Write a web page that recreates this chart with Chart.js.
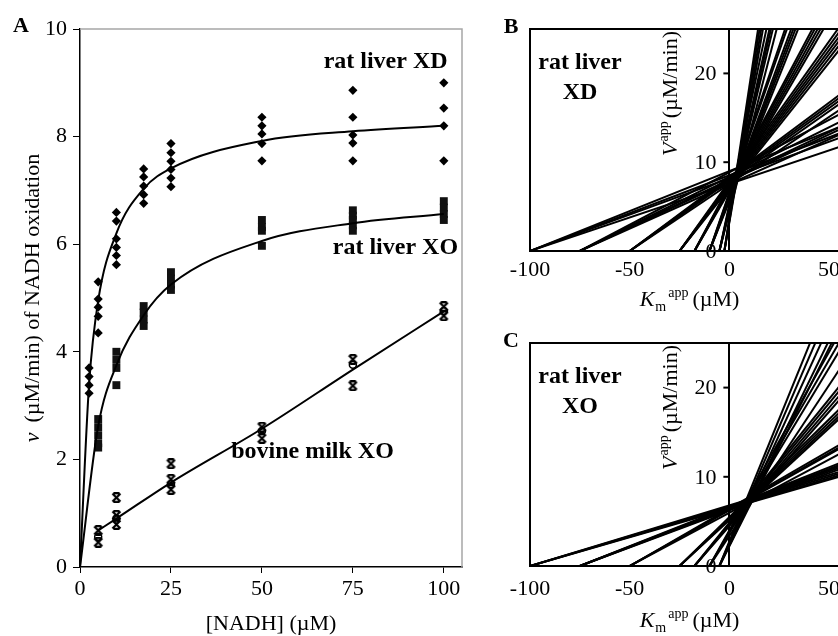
<!DOCTYPE html>
<html>
<head>
<meta charset="utf-8">
<script src="https://cdn.jsdelivr.net/npm/chart.js@4"></script>
<style>
  html, body { margin: 0; padding: 0; overflow: hidden; background: #fff; }
  body { width: 838px; height: 636px; position: relative; }
  canvas { position: absolute; }
  #chartA { left: 0; top: 0; }
  #chartB { left: 480px; top: 0; }
  #chartC { left: 480px; top: 318px; }
</style>
</head>
<body>
<canvas id="chartA" width="470" height="636"></canvas>
<canvas id="chartB" width="400" height="318"></canvas>
<canvas id="chartC" width="400" height="318"></canvas>
<script>
// Panel A data (rates in uM/min, grouped by [NADH] in uM)
const xdConc = [2.5, 5, 10, 17.5, 25, 50, 75, 100];
const xdRates = [
  [3.70, 3.54, 3.38, 3.23],
  [5.30, 4.98, 4.83, 4.66, 4.35],
  [6.59, 6.43, 6.10, 5.94, 5.79, 5.62],
  [7.40, 7.25, 7.08, 6.92, 6.76],
  [7.87, 7.70, 7.54, 7.39, 7.23, 7.07],
  [8.36, 8.20, 8.05, 7.87, 7.55],
  [8.86, 8.36, 8.03, 7.88, 7.55],
  [9.00, 8.53, 8.20, 7.55]
];
const xoConc = [5, 10, 17.5, 25, 50, 75, 100];
const xoRates = [
  [2.75, 2.60, 2.45, 2.30, 2.22],
  [4.00, 3.85, 3.70, 3.38],
  [4.85, 4.73, 4.60, 4.48],
  [5.48, 5.36, 5.25, 5.15],
  [6.45, 6.32, 6.25, 5.97],
  [6.63, 6.53, 6.45, 6.35, 6.25],
  [6.80, 6.68, 6.56, 6.45]
];
const milkConc = [5, 10, 25, 50, 75, 100];
const milkStars = [
  [0.68, 0.46],
  [1.29, 0.96, 0.79],
  [1.92, 1.63, 1.44],
  [2.60, 2.39],
  [3.86, 3.37],
  [4.84, 4.67]
];
const milkCircles = [0.56, 0.90, 1.54, 2.53, 3.76, 4.76];

// fitted curves as drawn in the figure
const xdFitX = [0, 2.5, 5, 10, 17.5, 25, 50, 75, 100];
const xdFitY = [0, 3.40, 4.95, 6.20, 7.03, 7.41, 7.92, 8.10, 8.20];
const xoFitX = [0, 5, 10, 17.5, 25, 50, 75, 100];
const xoFitY = [0, 2.62, 3.75, 4.68, 5.25, 6.06, 6.39, 6.56];
const milkFitX = [5, 10, 25, 50, 75, 100];
const milkFitY = [0.68, 0.90, 1.57, 2.57, 3.67, 4.75];

// tick labels
const nadhTicks = [0, 25, 50, 75, 100];
const rateTicks = [0, 2, 4, 6, 8, 10];
const kmTicks = [-100, -50, 0, 50];
const vTicks = [0, 10, 20];

const serif = '"Liberation Serif", "Times New Roman", serif';
Chart.defaults.font.family = serif;
Chart.defaults.color = '#000';

function toPoints(conc, groups) {
  const pts = [];
  conc.forEach((c, i) => groups[i].forEach(v => pts.push({ x: c, y: v })));
  return pts;
}
function zipXY(xs, ys) {
  return xs.map((x, i) => ({ x: x, y: ys[i] }));
}

// Excel-like star marker
const starMarker = document.createElement('canvas');
starMarker.width = 11;
starMarker.height = 11;
(function () {
  const c = starMarker.getContext('2d');
  c.strokeStyle = '#000';
  c.lineWidth = 2.2;
  c.beginPath();
  c.moveTo(1.5, 1.5); c.lineTo(9.5, 9.5);
  c.moveTo(9.5, 1.5); c.lineTo(1.5, 9.5);
  c.moveTo(2.5, 1.2); c.lineTo(8.5, 1.2);
  c.moveTo(2.5, 9.8); c.lineTo(8.5, 9.8);
  c.stroke();
})();

// text with italic / sub / superscript parts
function richWidth(ctx, parts) {
  let total = 0;
  parts.forEach(p => {
    ctx.font = p.font;
    p.w = ctx.measureText(p.text).width;
    total += p.w + (p.gap || 0);
  });
  return total;
}
function drawRich(ctx, parts, cx, cy, rotation) {
  ctx.save();
  ctx.translate(cx, cy);
  ctx.rotate(rotation || 0);
  ctx.fillStyle = '#000';
  ctx.textBaseline = 'alphabetic';
  ctx.textAlign = 'left';
  const total = richWidth(ctx, parts);
  let x = -total / 2;
  parts.forEach(p => {
    ctx.font = p.font;
    ctx.fillText(p.text, x, 7 + (p.dy || 0));
    x += p.w + (p.gap || 0);
  });
  ctx.restore();
}
function drawText(ctx, text, font, x, y, align) {
  ctx.save();
  ctx.font = font;
  ctx.fillStyle = '#000';
  ctx.textAlign = align || 'center';
  ctx.textBaseline = 'middle';
  ctx.fillText(text, x, y);
  ctx.restore();
}

const reg = '22px ' + serif;
const ital = 'italic 22px ' + serif;
const small = '14px ' + serif;
const bold = 'bold 24px ' + serif;
const letter = 'bold 22px ' + serif;

const panelA = {
  id: 'panelA',
  beforeDatasetsDraw(chart) {
    const { ctx, chartArea: a } = chart;
    ctx.save();
    ctx.strokeStyle = '#a6a6a6';
    ctx.lineWidth = 1.5;
    ctx.beginPath();
    ctx.moveTo(a.left, a.top);
    ctx.lineTo(a.right, a.top);
    ctx.lineTo(a.right, a.bottom);
    ctx.stroke();
    ctx.restore();
  },
  afterDraw(chart) {
    const { ctx, chartArea: a, scales: { x, y } } = chart;
    drawText(ctx, 'A', letter, 21, 26);
    drawText(ctx, 'rat liver XD', bold, x.getPixelForValue(84), y.getPixelForValue(9.39));
    drawText(ctx, 'rat liver XO', bold, x.getPixelForValue(86.7), y.getPixelForValue(5.93));
    drawText(ctx, 'bovine milk XO', bold, x.getPixelForValue(63.9), y.getPixelForValue(2.14));
    drawRich(ctx, [{ text: '[NADH] (\u00b5M)', font: reg }], (a.left + a.right) / 2, a.bottom + 56, 0);
    drawRich(ctx, [
      { text: 'v', font: ital, gap: 10 },
      { text: '(\u00b5M/min) of NADH oxidation', font: reg }
    ], 32, (a.top + a.bottom) / 2, -Math.PI / 2);
  }
};

function directPanel(id, letterText, name, titleDrop) {
  return {
    id: id,
    beforeDatasetsDraw(chart) {
      // V axis sits at K = 0: tick marks and labels to its left, under the lines
      const { ctx, scales: { x, y } } = chart;
      const x0 = x.getPixelForValue(0);
      ctx.save();
      ctx.strokeStyle = '#000';
      ctx.lineWidth = 2;
      vTicks.forEach(v => {
        const py = y.getPixelForValue(v);
        ctx.beginPath();
        ctx.moveTo(x0 - 6, py);
        ctx.lineTo(x0, py);
        ctx.stroke();
        drawText(ctx, String(v), reg, x0 - 13, py + 1, 'right');
      });
      ctx.restore();
    },
    afterDraw(chart) {
      const { ctx, chartArea: a, scales: { x } } = chart;
      ctx.save();
      ctx.strokeStyle = '#000';
      ctx.lineWidth = 2;
      ctx.beginPath();
      ctx.moveTo(a.left, a.bottom);
      ctx.lineTo(a.left, a.top);
      ctx.lineTo(a.right, a.top);
      ctx.stroke();
      ctx.restore();
      drawText(ctx, letterText, letter, 31, a.top - 2);
      drawText(ctx, 'rat liver', bold, 100, a.top + 34);
      drawText(ctx, name, bold, 100, a.top + 64);
      const vParts = [
        { text: 'V', font: ital, gap: 1 },
        { text: 'app', font: small, dy: -9, gap: 3 },
        { text: '(\u00b5M/min)', font: reg }
      ];
      const len = richWidth(ctx, vParts);
      drawRich(ctx, vParts, x.getPixelForValue(0) - 59, a.top + 2 + len / 2, -Math.PI / 2);
      drawRich(ctx, [
        { text: 'K', font: ital, gap: 1 },
        { text: 'm', font: small, dy: 5, gap: 2 },
        { text: 'app', font: small, dy: -9, gap: 4 },
        { text: '(\u00b5M)', font: reg }
      ], (a.left + a.right) / 2, a.bottom + titleDrop, 0);
    }
  };
}

function directLinear(conc, groups, kEnd) {
  const sets = [];
  conc.forEach((s, i) => groups[i].forEach(v => {
    sets.push({
      data: [{ x: -s, y: 0 }, { x: kEnd, y: v * (1 + kEnd / s) }],
      showLine: true,
      pointRadius: 0,
      borderColor: '#000',
      borderWidth: 2
    });
  }));
  return sets;
}

const common = {
  responsive: false,
  animation: false,
  devicePixelRatio: 1,
  plugins: { legend: { display: false }, tooltip: { enabled: false } }
};

new Chart(document.getElementById('chartA'), {
  type: 'scatter',
  data: {
    datasets: [
      { data: zipXY(xdFitX, xdFitY), showLine: true, pointRadius: 0, borderColor: '#000', borderWidth: 2, cubicInterpolationMode: 'monotone' },
      { data: zipXY(xoFitX, xoFitY), showLine: true, pointRadius: 0, borderColor: '#000', borderWidth: 2, cubicInterpolationMode: 'monotone' },
      { data: zipXY(milkFitX, milkFitY), showLine: true, pointRadius: 0, borderColor: '#000', borderWidth: 2, cubicInterpolationMode: 'monotone' },
      { data: toPoints(xdConc, xdRates), pointStyle: 'rectRot', pointRadius: 4.6, backgroundColor: '#000', borderWidth: 0 },
      { data: toPoints(xoConc, xoRates), pointStyle: 'rect', pointRadius: 5.6, backgroundColor: '#111', borderWidth: 0 },
      { data: toPoints(milkConc, milkStars), pointStyle: starMarker, pointRadius: 5 },
      { data: zipXY(milkConc, milkCircles), pointStyle: 'circle', pointRadius: 3.5, backgroundColor: 'rgba(0,0,0,0)', borderColor: '#000', borderWidth: 1.5 }
    ]
  },
  options: Object.assign({}, common, {
    layout: { padding: { left: 0, top: 29, right: 8, bottom: 0 } },
    scales: {
      x: {
        min: 0, max: 105,
        afterBuildTicks: s => { s.ticks = nadhTicks.map(v => ({ value: v })); },
        afterFit: s => { s.height = 69; },
        grid: { drawOnChartArea: false, color: '#000', tickLength: 6 },
        border: { color: '#000', width: 1.5 },
        ticks: { font: { size: 22 }, padding: 3, maxRotation: 0 }
      },
      y: {
        min: 0, max: 10,
        afterBuildTicks: s => { s.ticks = rateTicks.map(v => ({ value: v })); },
        afterFit: s => { s.width = 80; },
        grid: { drawOnChartArea: false, color: '#000', tickLength: 7 },
        border: { color: '#000', width: 1.5 },
        ticks: { font: { size: 22 }, padding: 6 }
      }
    }
  }),
  plugins: [panelA]
});

function directChart(id, conc, groups, letterText, name, top, axisHeight, labelPad, titleDrop) {
  new Chart(document.getElementById(id), {
    type: 'scatter',
    data: { datasets: directLinear(conc, groups, 60) },
    options: Object.assign({}, common, {
      layout: { padding: { left: 50, top: top, right: 31, bottom: 0 } },
      scales: {
        x: {
          min: -100, max: 60,
          afterBuildTicks: s => { s.ticks = kmTicks.map(v => ({ value: v })); },
          afterFit: s => { s.height = axisHeight; },
          grid: { drawOnChartArea: false, drawTicks: false },
          border: { color: '#000', width: 2 },
          ticks: { font: { size: 22 }, padding: labelPad, maxRotation: 0 }
        },
        y: {
          min: 0, max: 25,
          position: { x: 0 },
          afterBuildTicks: s => { s.ticks = vTicks.map(v => ({ value: v })); },
          grid: { drawOnChartArea: false, drawTicks: false },
          border: { color: '#000', width: 2 },
          ticks: { display: false }
        }
      }
    }),
    plugins: [directPanel(id + 'Deco', letterText, name, titleDrop)]
  });
}

directChart('chartB', xdConc, xdRates, 'B', 'XD', 29, 67, 6, 48);
directChart('chartC', xoConc, xoRates, 'C', 'XO', 25, 70, 10, 54);
</script>
</body>
</html>
